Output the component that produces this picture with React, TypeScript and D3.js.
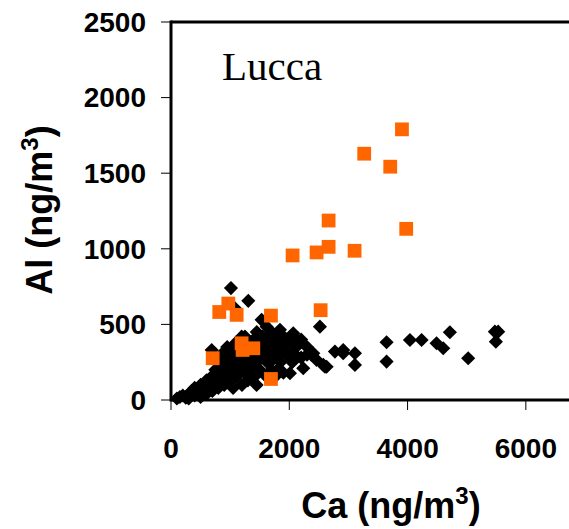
import React from 'react';
import * as d3 from 'd3';

// Ca (x) vs Al (y), ng/m3
const blackPoints: [number, number][] = [
  [100, 10], [150, 20], [200, 30], [250, 15], [300, 40], [350, 60], [300, 10], [400, 30],
  [400, 80], [450, 50], [500, 20], [500, 100], [550, 70], [600, 40], [600, 130], [650, 90],
  [700, 60], [700, 160], [750, 120], [750, 200], [800, 80], [800, 250], [850, 150], [850, 300],
  [688, 331], [900, 100], [900, 200], [950, 250], [950, 120], [1000, 180], [1000, 300], [1050, 80],
  [1050, 220], [1100, 150], [1100, 280], [1150, 200], [1150, 350], [1194, 419], [1200, 100], [1200, 250],
  [1250, 180], [1300, 230], [1300, 130], [1350, 280], [1350, 200], [1400, 150], [1400, 330], [1448, 99],
  [1450, 250], [1500, 200], [1500, 380], [1532, 530], [1550, 300], [1600, 160], [1600, 350], [1617, 485],
  [1650, 240], [1650, 420], [1700, 280], [1700, 200], [1750, 380], [1750, 150], [1800, 300], [1800, 420],
  [1842, 464], [1850, 250], [1900, 180], [1927, 364], [1950, 400], [2011, 177], [2000, 300], [2050, 250],
  [2067, 441], [2100, 350], [2152, 386], [2152, 364], [2200, 280], [2236, 210], [2300, 300], [2378, 298],
  [2405, 309], [2462, 265], [2518, 485], [2575, 232], [2603, 220], [1014, 740], [1307, 656], [1082, 607],
  [2631, 220], [2772, 320], [2912, 309], [2912, 331], [3110, 309], [3110, 232], [3645, 382], [3645, 254],
  [4040, 397], [4237, 397], [4490, 375], [4603, 342], [4715, 448], [5025, 276], [5476, 452], [5532, 452],
  [5493, 386],
  [1100, 380], [1250, 420], [1300, 330], [1400, 400], [1450, 450], [1550, 420], [1600, 270], [1700, 360],
  [1750, 300], [1800, 200], [1850, 350], [1900, 420], [1950, 300], [2000, 380], [2050, 420], [1200, 350],
  [1250, 280], [1350, 380], [900, 300], [950, 350], [1050, 330], [1500, 300], [1650, 330], [1700, 450],
  [2100, 300], [2200, 400], [2300, 350], [1150, 270], [800, 200], [1000, 240],
];

const orangePoints: [number, number][] = [
  [3905, 1790], [3267, 1629], [3707, 1543], [3977, 1132], [2665, 1187], [2665, 1013], [3104, 987],
  [2462, 976], [2056, 956], [2530, 594], [969, 638], [816, 582], [1110, 563], [1690, 558],
  [705, 276], [1194, 375], [1211, 331], [1392, 342], [1690, 139],
];

const xTicks = [0, 2000, 4000, 6000];
const yTicks = [0, 500, 1000, 1500, 2000, 2500];

const W = 569;
const H = 529;
const font = '"Liberation Sans", Arial, sans-serif';

export default function App() {
  const x = d3.scaleLinear().domain([0, 7000]).range([171, 585]);
  const y = d3.scaleLinear().domain([0, 2500]).range([400, 22]);

  const diamond = d3.symbol().type(d3.symbolSquare).size(100)();
  const square = d3.symbol().type(d3.symbolSquare).size(190)();

  return (
    <svg width={W} height={H} style={{ position: 'absolute', left: 0, top: 0, background: '#fff' }}>
      {/* frame */}
      <line x1={x(0)} x2={W} y1={y(0)} y2={y(0)} stroke="#000" strokeWidth={3} />
      <line x1={x(0)} x2={W} y1={y(2500)} y2={y(2500)} stroke="#000" strokeWidth={3} />
      <line x1={x(0)} x2={x(0)} y1={y(2500) - 1.5} y2={y(0) + 1.5} stroke="#000" strokeWidth={3} />

      {yTicks.map(t => (
        <g key={'y' + t}>
          <line x1={161} x2={x(0)} y1={y(t)} y2={y(t)} stroke="#000" strokeWidth={1} />
          <text x={146} y={y(t)} dy="0.35em" textAnchor="end" fontFamily={font} fontWeight="bold" fontSize={28}>
            {t}
          </text>
        </g>
      ))}
      {xTicks.map(t => (
        <g key={'x' + t}>
          <line x1={x(t)} x2={x(t)} y1={y(0)} y2={y(0) + 10} stroke="#000" strokeWidth={1} />
          <text x={x(t)} y={458} textAnchor="middle" fontFamily={font} fontWeight="bold" fontSize={28}>
            {t}
          </text>
        </g>
      ))}

      <g>
        {blackPoints.map((d, i) => (
          <path key={'b' + i} d={diamond!} transform={`translate(${x(d[0])},${y(d[1])}) rotate(45)`} fill="#000" />
        ))}
        {orangePoints.map((d, i) => (
          <path key={'o' + i} d={square!} transform={`translate(${x(d[0])},${y(d[1])})`} fill="#ff6600" />
        ))}
      </g>

      <text x={222} y={80} fontFamily='"Liberation Serif", "Times New Roman", serif' fontSize={41}>Lucca</text>

      <text x={391} y={518} textAnchor="middle" fontFamily={font} fontWeight="bold" fontSize={36}>
        Ca (ng/m<tspan dy={-14} fontSize={24}>3</tspan><tspan dy={14}>)</tspan>
      </text>
      <text transform={`translate(52,210) rotate(-90)`} textAnchor="middle" fontFamily={font} fontWeight="bold" fontSize={36}>
        Al (ng/m<tspan dy={-14} fontSize={24}>3</tspan><tspan dy={14}>)</tspan>
      </text>
    </svg>
  );
}
